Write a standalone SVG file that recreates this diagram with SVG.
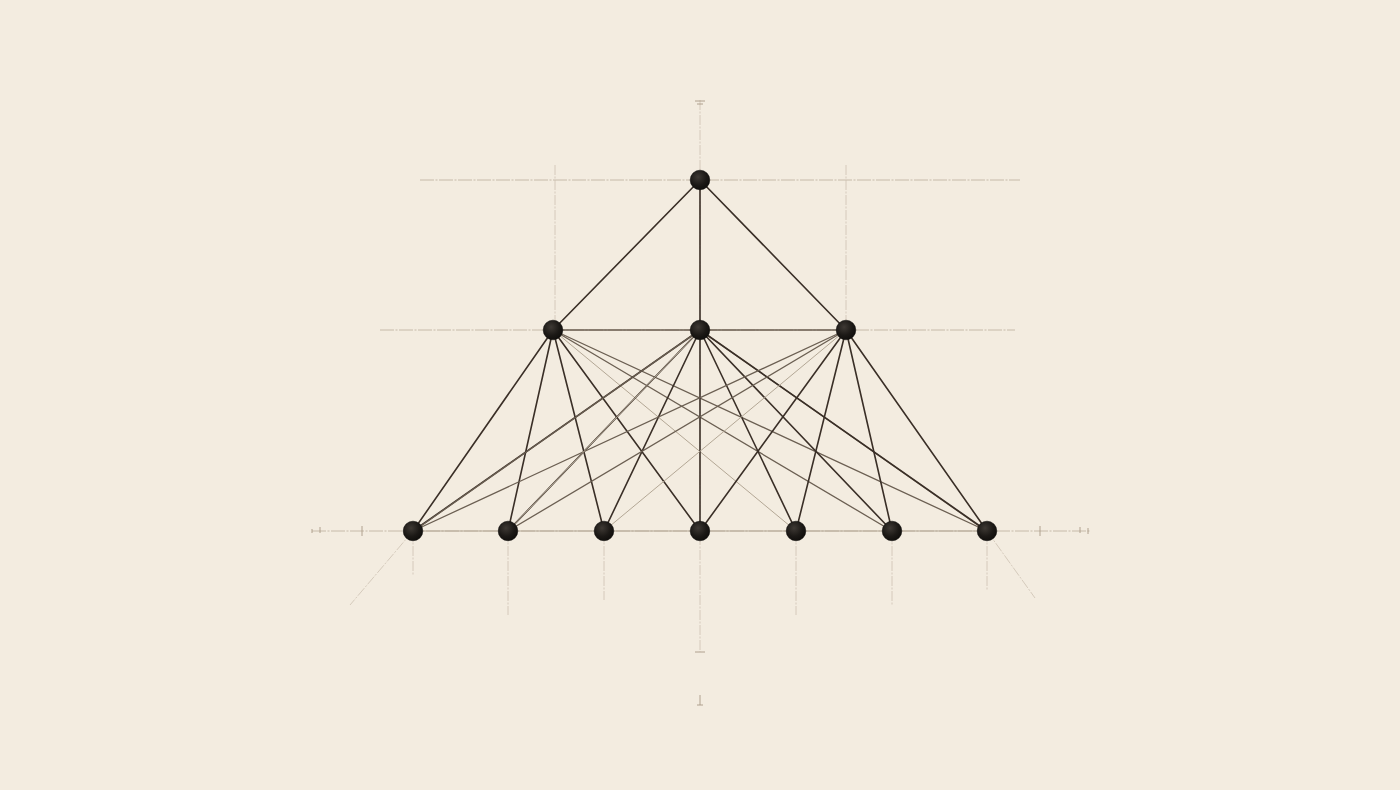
<svg xmlns="http://www.w3.org/2000/svg" width="1400" height="790" viewBox="0 0 1400 790">
<defs>
<radialGradient id="ball" cx="0.4" cy="0.35" r="0.7">
<stop offset="0" stop-color="#3e3934"/>
<stop offset="0.6" stop-color="#1c1916"/>
<stop offset="1" stop-color="#0f0d0b"/>
</radialGradient>
<style>
.guide{stroke:#c2b5a3;stroke-width:0.9;fill:none;stroke-dasharray:14 1.5 2 1.5}
.guidev{stroke:#cdc2b2;stroke-width:0.8;fill:none;stroke-dasharray:10 1.5 2 1.5}
.tick{stroke:#a99a86;stroke-width:0.9}
.e{stroke:#3a2f27;stroke-width:1.6;fill:none;stroke-linecap:round}
.em{stroke:#6b5f52;stroke-width:1.3;fill:none;stroke-linecap:round}
.el{stroke:#b3a795;stroke-width:1;fill:none;stroke-linecap:round}
.node{fill:url(#ball);stroke:#0f0d0b;stroke-width:0.6}
</style>
</defs>
<rect width="1400" height="790" fill="#f3ece0"/>
<g id="guides">
<line class="guide" x1="420" y1="180" x2="1020" y2="180"/>
<line class="guide" x1="380" y1="330" x2="1015" y2="330"/>
<line class="guide" x1="312" y1="531" x2="1090" y2="531"/>
<line class="guidev" x1="700" y1="100" x2="700" y2="652"/>
<line class="guidev" x1="555" y1="165" x2="555" y2="330"/>
<line class="guidev" x1="846" y1="165" x2="846" y2="330"/>
<line class="guidev" x1="413" y1="531" x2="413" y2="575"/>
<line class="guidev" x1="508" y1="531" x2="508" y2="615"/>
<line class="guidev" x1="604" y1="531" x2="604" y2="600"/>
<line class="guidev" x1="796" y1="531" x2="796" y2="615"/>
<line class="guidev" x1="892" y1="531" x2="892" y2="605"/>
<line class="guidev" x1="987" y1="531" x2="987" y2="590"/>
<line class="guidev" x1="413" y1="531" x2="350" y2="605"/>
<line class="guidev" x1="987" y1="531" x2="1035" y2="598"/>
<line class="tick" x1="695" y1="101" x2="705" y2="101"/>
<line class="tick" x1="697" y1="104" x2="703" y2="104"/>
<line class="tick" x1="695" y1="652" x2="705" y2="652"/>
<line class="tick" x1="700" y1="695" x2="700" y2="705"/>
<line class="tick" x1="697" y1="705" x2="703" y2="705"/>
<line class="tick" x1="362" y1="526" x2="362" y2="536"/>
<line class="tick" x1="1040" y1="526" x2="1040" y2="536"/>
<line class="tick" x1="312" y1="529" x2="312" y2="533"/>
<line class="tick" x1="320" y1="527" x2="320" y2="533"/>
<line class="tick" x1="1080" y1="527" x2="1080" y2="533"/>
<line class="tick" x1="1088" y1="528" x2="1088" y2="534"/>
</g>
<g id="connectors">
<line class="e" x1="700" y1="180" x2="553" y2="330"/>
<line class="e" x1="700" y1="180" x2="700" y2="330"/>
<line class="e" x1="700" y1="180" x2="846" y2="330"/>
<line class="em" x1="553" y1="330" x2="700" y2="330"/>
<line class="em" x1="700" y1="330" x2="846" y2="330"/>
<line class="el" x1="413" y1="531" x2="987" y2="531"/>
<line class="e" x1="553" y1="330" x2="413" y2="531"/>
<line class="e" x1="553" y1="330" x2="508" y2="531"/>
<line class="e" x1="553" y1="330" x2="604" y2="531"/>
<line class="e" x1="553" y1="330" x2="700" y2="531"/>
<line class="el" x1="553" y1="330" x2="796" y2="531"/>
<line class="em" x1="553" y1="330" x2="892" y2="531"/>
<line class="em" x1="553" y1="330" x2="987" y2="531"/>
<line class="e" x1="700" y1="330" x2="413" y2="531"/>
<line class="em" x1="700" y1="330" x2="418" y2="528"/>
<line class="e" x1="700" y1="330" x2="508" y2="531"/>
<line class="e" x1="700" y1="330" x2="604" y2="531"/>
<line class="e" x1="700" y1="330" x2="700" y2="531"/>
<line class="e" x1="700" y1="330" x2="796" y2="531"/>
<line class="e" x1="700" y1="330" x2="892" y2="531"/>
<line class="em" x1="700" y1="330" x2="982" y2="528"/>
<line class="e" x1="700" y1="330" x2="987" y2="531"/>
<line class="em" x1="846" y1="330" x2="413" y2="531"/>
<line class="em" x1="846" y1="330" x2="508" y2="531"/>
<line class="el" x1="846" y1="330" x2="604" y2="531"/>
<line class="e" x1="846" y1="330" x2="700" y2="531"/>
<line class="e" x1="846" y1="330" x2="796" y2="531"/>
<line class="e" x1="846" y1="330" x2="892" y2="531"/>
<line class="e" x1="846" y1="330" x2="987" y2="531"/>
<line class="el" x1="508" y1="531" x2="700" y2="330"/>
</g>
<g id="n-top"><circle class="node" cx="700" cy="180" r="9.8"/></g>
<g id="n-m1"><circle class="node" cx="553" cy="330" r="9.8"/></g>
<g id="n-m2"><circle class="node" cx="700" cy="330" r="9.8"/></g>
<g id="n-m3"><circle class="node" cx="846" cy="330" r="9.8"/></g>
<g id="n-b1"><circle class="node" cx="413" cy="531" r="9.8"/></g>
<g id="n-b2"><circle class="node" cx="508" cy="531" r="9.8"/></g>
<g id="n-b3"><circle class="node" cx="604" cy="531" r="9.8"/></g>
<g id="n-b4"><circle class="node" cx="700" cy="531" r="9.8"/></g>
<g id="n-b5"><circle class="node" cx="796" cy="531" r="9.8"/></g>
<g id="n-b6"><circle class="node" cx="892" cy="531" r="9.8"/></g>
<g id="n-b7"><circle class="node" cx="987" cy="531" r="9.8"/></g>
</svg>
